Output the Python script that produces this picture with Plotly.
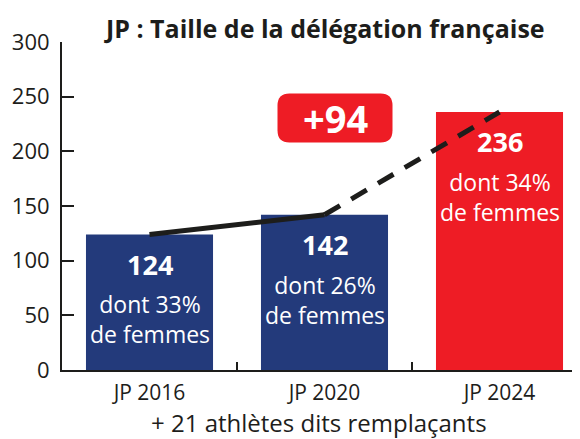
import plotly.graph_objects as go

categories = ["JP 2016", "JP 2020", "JP 2024"]
athletes = [124, 142, 236]
women_share = ["33%", "26%", "34%"]
bar_colors = ["#233A7B", "#233A7B", "#EE1C25"]
increase_label = "+94"
title_text = "JP : Taille de la délégation française"
footnote = "+ 21 athlètes dits remplaçants"
y_ticks = [0, 50, 100, 150, 200, 250, 300]

FONT = "Open Sans"
DARK = "#1d1d1b"

fig = go.Figure()
fig.add_trace(go.Bar(x=categories, y=athletes, marker=dict(color=bar_colors, line=dict(width=0)),
                     width=0.726, hoverinfo="skip", showlegend=False))
fig.add_trace(go.Scatter(x=categories[:2], y=athletes[:2], mode="lines",
                         line=dict(color=DARK, width=5), showlegend=False, hoverinfo="skip"))
fig.add_trace(go.Scatter(x=categories[1:], y=athletes[1:], mode="lines",
                         line=dict(color=DARK, width=5, dash="18px,13px"), showlegend=False, hoverinfo="skip"))

annotations = []
for c, v, w in zip(categories, athletes, women_share):
    annotations.append(dict(x=c, y=v, xref="x", yref="y", text=f"<b>{v}</b>", showarrow=False,
                            yshift=-30, font=dict(family=FONT, size=27, color="white")))
    annotations.append(dict(x=c, y=v, xref="x", yref="y", text=f"dont {w}<br>de femmes", showarrow=False,
                            yshift=-85, font=dict(family=FONT, size=23, color="white")))

# +94 badge
annotations.append(dict(x=1.06, y=230.5, xref="x", yref="y", text=f"<b>{increase_label}</b>", showarrow=False,
                        font=dict(family=FONT, size=38, color="white")))
annotations.append(dict(x=0.506, y=1.0, xref="paper", yref="paper", yanchor="middle",
                        text=f"<b>{title_text}</b>", showarrow=False,
                        yshift=14, font=dict(family=FONT, size=25, color=DARK)))
annotations.append(dict(x=0.497, y=0, xref="paper", yref="paper", yanchor="middle",
                        text=footnote, showarrow=False,
                        yshift=-52, font=dict(family=FONT, size=24, color=DARK)))

# rounded rectangle behind the badge (pixel-sized, anchored in data coords)
w2, h2, r = 57.5, 24.5, 12
path = (f"M{-w2 + r},{-h2} L{w2 - r},{-h2} Q{w2},{-h2} {w2},{-h2 + r} "
        f"L{w2},{h2 - r} Q{w2},{h2} {w2 - r},{h2} L{-w2 + r},{h2} Q{-w2},{h2} {-w2},{h2 - r} "
        f"L{-w2},{-h2 + r} Q{-w2},{-h2} {-w2 + r},{-h2} Z")
fig.add_shape(type="path", path=path, xref="x", yref="y", xsizemode="pixel", ysizemode="pixel",
              xanchor=1.06, yanchor=230.5, fillcolor="#EE1C25", line=dict(width=0), layer="above")

fig.update_layout(
    width=580, height=439,
    margin=dict(l=54, r=8, t=34, b=77),
    plot_bgcolor="white", paper_bgcolor="white",
    bargap=0.274,
    annotations=annotations,
    xaxis=dict(range=[-0.5, 2.46], showline=True, linecolor=DARK, linewidth=2, automargin=False,
               ticks="inside", tickson="boundaries", ticklen=8, tickwidth=1.5, tickcolor=DARK,
               ticklabelstandoff=3,
               tickfont=dict(family=FONT, size=21, color=DARK), showgrid=False, zeroline=False),
    yaxis=dict(range=[0, 300], tickvals=y_ticks, showline=True, linecolor=DARK, linewidth=2, automargin=False,
               ticks="inside", ticklen=12, tickwidth=2, tickcolor=DARK, ticklabelstandoff=6,
               tickfont=dict(family=FONT, size=22, color=DARK), showgrid=False, zeroline=False),
)

fig.write_html("out.html")
